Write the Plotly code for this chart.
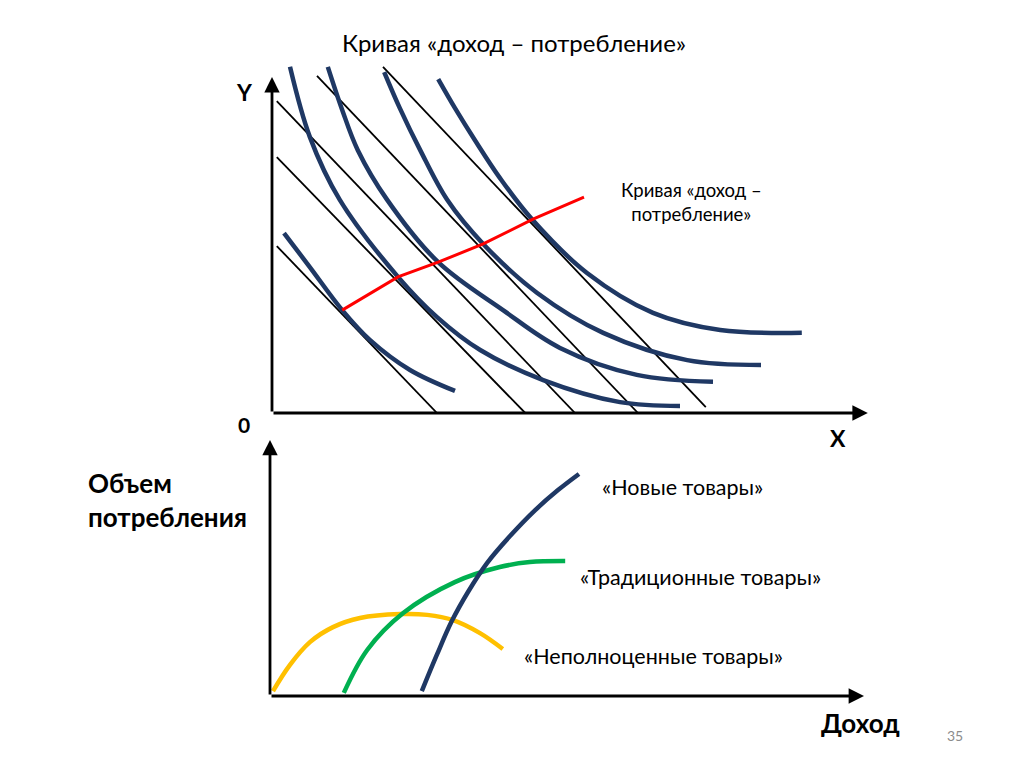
import plotly.graph_objects as go

# upper panel: budget lines (start / end points)
budget_x0 = [0.08, 0.08, 0.08, 0.75, 1.85]
budget_y0 = [4.77, 7.31, 8.91, 9.63, 9.89]
budget_x1 = [2.75, 4.22, 5.05, 6.10, 7.23]
budget_y1 = [0.0, 0.0, 0.0, 0.0, 0.17]

# upper panel: indifference curves
ic1_x = [0.2, 0.63, 1.17, 1.63, 2.3, 3.05]
ic1_y = [5.14, 4.17, 2.94, 2.09, 1.23, 0.63]
ic2_x = [0.3, 0.63, 1.13, 2.1, 2.75, 3.47, 4.52, 5.8, 6.8]
ic2_y = [9.89, 7.89, 6.09, 3.89, 2.74, 1.8, 0.94, 0.31, 0.2]
ic3_x = [0.93, 1.17, 1.43, 1.92, 2.77, 3.85, 4.8, 6.08, 7.35]
ic3_y = [9.89, 8.66, 7.51, 6.09, 4.31, 2.94, 1.86, 1.09, 0.89]
ic4_x = [1.87, 2.13, 2.47, 2.92, 3.52, 4.42, 5.52, 6.92, 8.15]
ic4_y = [9.74, 8.71, 7.51, 6.09, 4.83, 3.43, 2.29, 1.51, 1.37]
ic5_x = [2.77, 3.05, 3.38, 3.8, 4.33, 5.25, 6.35, 7.47, 8.83]
ic5_y = [9.54, 8.71, 7.8, 6.71, 5.54, 4.0, 2.86, 2.37, 2.29]

# income-consumption curve
icc_x = [1.17, 2.1, 2.77, 3.52, 4.35, 5.2]
icc_y = [2.94, 3.89, 4.31, 4.83, 5.54, 6.17]

# lower panel: Engel curves
inferior_x = [0.05, 0.33, 0.67, 1.05, 1.5, 2.17, 2.62, 3.05, 3.5, 3.88]
inferior_y = [0.19, 1.19, 2.08, 2.65, 3.0, 3.15, 3.12, 2.92, 2.42, 1.81]
normal_x = [1.23, 1.62, 2.22, 3.08, 3.83, 4.33, 4.92]
normal_y = [0.12, 1.77, 3.19, 4.38, 4.96, 5.15, 5.19]
new_x = [2.53, 2.78, 3.03, 3.3, 3.62, 4.0, 4.42, 4.8, 5.15]
new_y = [0.19, 1.58, 2.88, 4.0, 5.12, 6.15, 7.15, 7.92, 8.54]

navy = "#1F3864"
font = "Lato"
W, H, OFF = 1016, 759, 8   # page body margin shifts the plot by 8 px

def px(v):
    return (v - OFF) / W

def py(v):
    return 1 - (v - OFF) / H

fig = go.Figure()

for x0, y0, x1, y1 in zip(budget_x0, budget_y0, budget_x1, budget_y1):
    fig.add_trace(go.Scatter(x=[x0, x1], y=[y0, y1], mode="lines",
                             line=dict(color="black", width=1.8), xaxis="x", yaxis="y"))

for cx, cy in [(ic1_x, ic1_y), (ic2_x, ic2_y), (ic3_x, ic3_y), (ic4_x, ic4_y), (ic5_x, ic5_y)]:
    fig.add_trace(go.Scatter(x=cx, y=cy, mode="lines", line_shape="spline",
                             line=dict(color=navy, width=4.5), xaxis="x", yaxis="y"))

fig.add_trace(go.Scatter(x=icc_x, y=icc_y, mode="lines",
                         line=dict(color="#FF0000", width=3), xaxis="x", yaxis="y"))

fig.add_trace(go.Scatter(x=inferior_x, y=inferior_y, mode="lines", line_shape="spline",
                         line=dict(color="#FFC000", width=4.5), xaxis="x2", yaxis="y2"))
fig.add_trace(go.Scatter(x=normal_x, y=normal_y, mode="lines", line_shape="spline",
                         line=dict(color="#00B050", width=4.5), xaxis="x2", yaxis="y2"))
fig.add_trace(go.Scatter(x=new_x, y=new_y, mode="lines", line_shape="spline",
                         line=dict(color=navy, width=4.5), xaxis="x2", yaxis="y2"))

hidden = dict(visible=False, showgrid=False, zeroline=False)
fig.update_layout(
    width=W, height=H,
    margin=dict(l=0, r=0, t=0, b=0),
    paper_bgcolor="white", plot_bgcolor="white",
    showlegend=False,
    xaxis=dict(domain=[px(272), px(872)], range=[0, 10], **hidden),
    yaxis=dict(domain=[py(413), py(63)], range=[0, 10], **hidden),
    xaxis2=dict(domain=[px(270), px(870)], range=[0, 10], anchor="y2", **hidden),
    yaxis2=dict(domain=[py(696), py(436)], range=[0, 10], anchor="x2", **hidden),
)

# axes with arrows
arrows = [("x", "y", 9.93, 0), ("x", "y", 0, 9.6),
          ("x2", "y2", 9.9, 0), ("x2", "y2", 0, 9.85)]
for xr, yr, x, y in arrows:
    fig.add_annotation(x=x, y=y, ax=0, ay=0, xref=xr, yref=yr, axref=xr, ayref=yr,
                       text="", showarrow=True, arrowhead=2, arrowsize=1.1,
                       arrowwidth=2.8, arrowcolor="black")

def label(text, x, y, size, bold=False, color="black", xanchor="center"):
    fig.add_annotation(x=px(x), y=py(y), xref="paper", yref="paper",
                       text="<b>%s</b>" % text if bold else text, showarrow=False,
                       xanchor=xanchor, yanchor="middle",
                       align="left" if xanchor == "left" else "center",
                       font=dict(family=font, size=size, color=color))

label("Кривая «доход – потребление»", 514, 42, 24)
label("Y", 244, 92, 23, bold=True)
label("0", 244, 424, 21, bold=True)
label("X", 838, 438, 23, bold=True)
label("Кривая «доход –<br>потребление»", 691, 202, 18.5)
label("Объем<br>потребления", 86, 500, 26, bold=True, xanchor="left")
label("Доход", 860, 723, 26, bold=True)
label("35", 955, 735, 14, color="#8C8C8C")
label("«Новые товары»", 600, 487, 21.5, xanchor="left")
label("«Традиционные товары»", 578, 577, 21.5, xanchor="left")
label("«Неполноценные товары»", 522, 656, 21.5, xanchor="left")

fig.write_html("out.html")
